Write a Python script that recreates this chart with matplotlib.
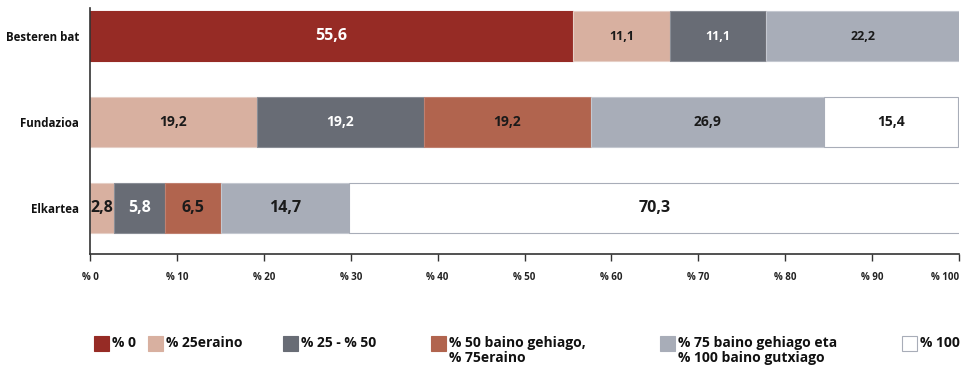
import matplotlib
matplotlib.use("Agg")
import matplotlib.pyplot as plt
from matplotlib.patches import Rectangle

# -- data --
groups = ["Besteren bat", "Fundazioa", "Elkartea"]
series = ["% 0", "% 25eraino", "% 25 - % 50",
          "% 50 baino gehiago,\n% 75eraino",
          "% 75 baino gehiago eta\n% 100 baino gutxiago",
          "% 100"]
pct_0 = [55.6, 0.0, 0.0]
pct_25 = [11.1, 19.2, 2.8]
pct_25_50 = [11.1, 19.2, 5.8]
pct_50_75 = [0.0, 19.2, 6.5]
pct_75_100 = [22.2, 26.9, 14.7]
pct_100 = [0.0, 15.4, 70.3]
xticks = list(range(0, 101, 10))

COLORS = ["#962B25", "#D8B0A0", "#686C75", "#B1644E", "#A8ADB8", "#FFFFFF"]
TEXT_COLORS = ["white", "#1a1a1a", "white", "#1a1a1a", "#1a1a1a", "#1a1a1a"]
EDGE = ["#962B25", "#E6CFC6", "#8A8E96", "#C08070", "#C4C8D0", "#A8ADB8"]
LABEL_SIZE = [9, 10, 11.5]

plt.rcParams.update({
    "font.family": ["Open Sans", "DejaVu Sans"],
})

fig = plt.figure(figsize=(9.63, 3.69), dpi=100)
ax = fig.add_axes([90 / 963, 1 - 254 / 369, 869 / 963, 246 / 369])

values = [pct_0, pct_25, pct_25_50, pct_50_75, pct_75_100, pct_100]
ypos = list(range(len(groups)))
left = [0.0] * len(groups)
for si, vals in enumerate(values):
    ax.barh(ypos, vals, left=left, height=0.58, color=COLORS[si],
            edgecolor=EDGE[si], linewidth=0.8, zorder=2)
    for gi, v in enumerate(vals):
        if v > 0:
            size = LABEL_SIZE[gi]
            if gi == 0 and si == 0:
                size = 11.5
            ax.text(left[gi] + v / 2, ypos[gi],
                    f"{v:.1f}".replace(".", ","),
                    ha="center", va="center", fontsize=size,
                    fontweight="bold", color=TEXT_COLORS[si], zorder=3)
    left = [l + v for l, v in zip(left, vals)]

ax.set_xlim(0, 100)
ax.set_ylim(2.53, -0.33)
ax.set_yticks(ypos)
ax.set_yticklabels(groups, fontsize=8.3, fontweight="bold", color="#111111")
ax.set_xticks(xticks)
ax.set_xticklabels([f"% {t}" for t in xticks], fontsize=7,
                   fontweight="bold", color="#222222")
# keep the last tick label inside the figure
ax.get_xticklabels()[-1].set_horizontalalignment("right")
ax.tick_params(axis="y", length=0, pad=8)
ax.tick_params(axis="x", length=5, width=1, color="#333333", pad=8)
for side in ("top", "right"):
    ax.spines[side].set_visible(False)
for side in ("left", "bottom"):
    ax.spines[side].set_color("#333333")
    ax.spines[side].set_linewidth(1.2)

# legend row along the bottom
legend_x = [94, 148, 283, 431, 660, 902]
W, H = 963, 369
for lx, name, col in zip(legend_x, series, COLORS):
    ec = "#A8ADB8" if col == "#FFFFFF" else col
    fig.add_artist(Rectangle((lx / W, 1 - 351 / H), 15 / W, 15 / H,
                             transform=fig.transFigure, facecolor=col,
                             edgecolor=ec, linewidth=0.8))
    fig.text((lx + 18) / W, 1 - 336 / H, name, ha="left", va="top",
             fontsize=10, fontweight="bold", color="#111111",
             linespacing=1.05)

fig.savefig("out.png", dpi=100, facecolor="white")
